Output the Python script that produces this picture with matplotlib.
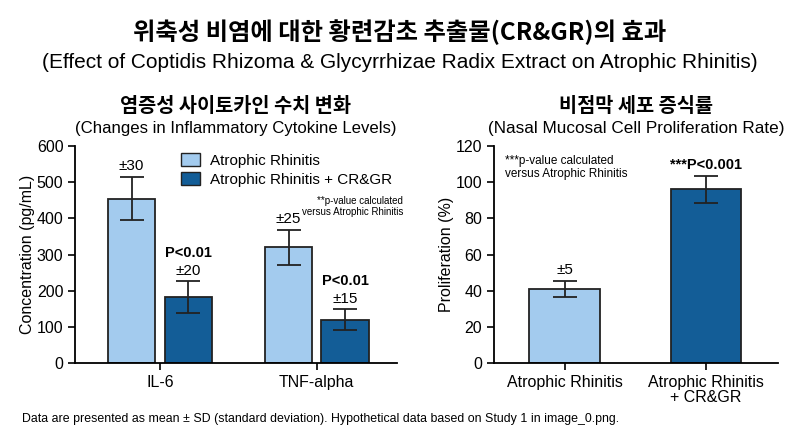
import numpy as np
import matplotlib.pyplot as plt
from matplotlib.patches import Patch

plt.rcParams['font.family'] = ['Liberation Sans', 'Noto Sans CJK KR', 'DejaVu Sans']
kor = ['Noto Sans CJK KR', 'Liberation Sans']

# Datos del gráfico izquierdo (citoquinas)
citoquinas = ["IL-6", "TNF-alpha"]
ar_conc = [455, 320]
ar_err = [60, 48]
crgr_conc = [183, 120]
crgr_err = [45, 29]
ar_etiquetas = ["±30", "±25"]
crgr_etiquetas = ["±20", "±15"]
p_izq = ["P<0.01", "P<0.01"]

# Datos del gráfico derecho (proliferación)
grupos = ["Atrophic Rhinitis", "Atrophic Rhinitis\n+ CR&GR"]
prolif = [41, 96]
prolif_err = [4.5, 7.5]

claro = "#a3cbee"
oscuro = "#135d97"
borde = "#222222"

fig = plt.figure(figsize=(8, 4.36), dpi=100)

fig.text(0.5, 0.925, "위축성 비염에 대한 황련감초 추출물(CR&GR)의 효과", ha="center", va="center",
         fontsize=17.5, fontweight="bold", family=kor)
fig.text(0.5, 0.857, "(Effect of Coptidis Rhizoma & Glycyrrhizae Radix Extract on Atrophic Rhinitis)",
         ha="center", va="center", fontsize=15)

ax1 = fig.add_axes([0.094, 0.167, 0.402, 0.498])
ax2 = fig.add_axes([0.6175, 0.167, 0.355, 0.498])

kw_err = dict(ecolor=borde, capsize=8.5, error_kw=dict(elinewidth=1.3, capthick=1.3))

# --- Gráfico izquierdo ---
x = np.arange(len(citoquinas))
w = 0.3
ax1.bar(x - 0.18, ar_conc, w, yerr=ar_err, color=claro, edgecolor=borde, linewidth=1.3, **kw_err)
ax1.bar(x + 0.18, crgr_conc, w, yerr=crgr_err, color=oscuro, edgecolor=borde, linewidth=1.3, **kw_err)
for i in range(len(citoquinas)):
    ax1.text(x[i] - 0.18, ar_conc[i] + ar_err[i] + 10, ar_etiquetas[i], ha="center", va="bottom", fontsize=11)
    ax1.text(x[i] + 0.18, crgr_conc[i] + crgr_err[i] + 8, crgr_etiquetas[i], ha="center", va="bottom", fontsize=11)
    ax1.text(x[i] + 0.18, crgr_conc[i] + crgr_err[i] + 58, p_izq[i], ha="center", va="bottom",
             fontsize=10.5, fontweight="bold")
ax1.set_xticks(x)
ax1.set_xticklabels(citoquinas)
ax1.set_xlim(-0.54, 1.51)
ax1.set_ylim(0, 600)
ax1.set_yticks(range(0, 601, 100))
ax1.set_ylabel("Concentration (pg/mL)", fontsize=11.5, labelpad=1)
ax1.legend(handles=[Patch(facecolor=claro, edgecolor=borde, label="Atrophic Rhinitis"),
                    Patch(facecolor=oscuro, edgecolor=borde, label="Atrophic Rhinitis + CR&GR")],
           loc="upper left", bbox_to_anchor=(0.285, 1.03), frameon=False, fontsize=11,
           handlelength=1.3, handleheight=0.9, labelspacing=0.3, handletextpad=0.6)
ax1.text(1.019, 0.723, "**p-value calculated\nversus Atrophic Rhinitis", transform=ax1.transAxes,
         ha="right", va="center", fontsize=7, linespacing=1.1, clip_on=False)
ax1.text(0.5, 1.18, "염증성 사이토카인 수치 변화", transform=ax1.transAxes, ha="center", va="center",
         fontsize=14.2, fontweight="bold", family=kor)
ax1.text(0.5, 1.08, "(Changes in Inflammatory Cytokine Levels)", transform=ax1.transAxes,
         ha="center", va="center", fontsize=12.1)

# --- Gráfico derecho ---
x2 = np.arange(len(grupos))
ax2.bar(x2[0], prolif[0], 0.5, yerr=prolif_err[0], color=claro, edgecolor=borde, linewidth=1.3, **kw_err)
ax2.bar(x2[1], prolif[1], 0.5, yerr=prolif_err[1], color=oscuro, edgecolor=borde, linewidth=1.3, **kw_err)
ax2.text(x2[0], prolif[0] + prolif_err[0] + 2, "±5", ha="center", va="bottom", fontsize=11)
ax2.text(x2[1], prolif[1] + prolif_err[1] + 2, "***P<0.001", ha="center", va="bottom",
         fontsize=10.5, fontweight="bold")
ax2.text(0.04, 0.9, "***p-value calculated\nversus Atrophic Rhinitis", transform=ax2.transAxes,
         ha="left", va="center", fontsize=8.5, linespacing=1.1)
ax2.set_xticks(x2)
ax2.set_xticklabels(grupos, linespacing=1.0)
ax2.set_xlim(-0.5, 1.51)
ax2.set_ylim(0, 120)
ax2.set_yticks(range(0, 121, 20))
ax2.set_ylabel("Proliferation (%)", fontsize=11.5, labelpad=1)
ax2.text(0.5, 1.18, "비점막 세포 증식률", transform=ax2.transAxes, ha="center", va="center",
         fontsize=14.2, fontweight="bold", family=kor)
ax2.text(0.5, 1.08, "(Nasal Mucosal Cell Proliferation Rate)", transform=ax2.transAxes,
         ha="center", va="center", fontsize=12.3)

for ax in (ax1, ax2):
    ax.spines["top"].set_visible(False)
    ax.spines["right"].set_visible(False)
    ax.spines["left"].set_linewidth(1.3)
    ax.spines["bottom"].set_linewidth(1.3)
    ax.tick_params(axis="both", labelsize=11.5, width=1.2, length=5)

fig.text(0.027, 0.04, "Data are presented as mean ± SD (standard deviation). Hypothetical data based on Study 1 in image_0.png.",
         ha="left", va="center", fontsize=8.9)

fig.savefig("out.png", dpi=100)
